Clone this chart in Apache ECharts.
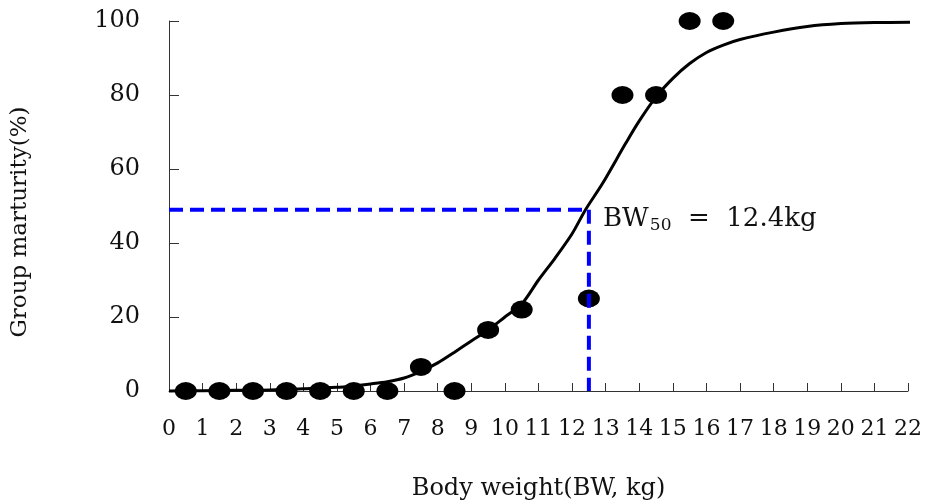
<!DOCTYPE html>
<html><head><meta charset="utf-8">
<script src="https://cdn.jsdelivr.net/npm/echarts@6/dist/echarts.min.js"></script>
<style>html,body{margin:0;padding:0;background:#fff}#c{width:928px;height:502px}</style>
</head><body><div id="c"></div>
<script>
// Observed group maturity
const obsX = [0.5,1.5,2.5,3.5,4.5,5.5,6.5,7.5,8.5,9.5,10.5,12.5,13.5,14.5,15.5,16.5];
const obsY = [0,0,0,0,0,0,0,6.5,0,16.5,22,25,80,80,100,100];
// Fitted logistic curve
const curveX = [0,1,2,3,4,5,5.5,6,6.5,7,7.5,8,8.5,9,9.5,10,10.5,11,11.5,12,12.4,12.9,13.6,14,14.5,15,15.5,16,16.5,17,18,19,20,21,22.35];
const curveY = [0,0.1,0.2,0.3,0.6,1.0,1.4,1.9,2.5,3.5,5.3,7.6,10.5,13.5,16.5,20,23.5,30,36,42.5,49,56,67,73,79.5,84.5,88.5,91.5,93.5,95,97,98.5,99.3,99.6,99.7];
// BW50 reference lines
const refX = [0, 12.5, 12.5];
const refY = [49, 49, 0];
const xTicks = ['0','1','2','3','4','5','6','7','8','9','10','11','12','13','14','15','16','17','18','19','20','21','22'];
const yTicks = [0,20,40,60,80,100];

const font = 'DejaVu Serif';
const chart = echarts.init(document.getElementById('c'));
chart.setOption({
  animation:false,
  backgroundColor:'#fff',
  grid:{left:169,right:20,top:21,bottom:111,containLabel:false,outerBoundsMode:'none'},
  xAxis:{type:'value',min:0,max:22,interval:1,
    axisLine:{lineStyle:{color:'#333',width:1}},
    axisTick:{inside:true,length:8,lineStyle:{color:'#333'}},
    splitLine:{show:false},
    axisLabel:{color:'#111',fontFamily:font,fontSize:22,margin:27,
      formatter:v=>xTicks[Math.round(v)] ?? ''},
    name:'Body weight(BW, kg)',nameLocation:'middle',nameGap:86,
    nameTextStyle:{color:'#111',fontFamily:font,fontSize:24}
  },
  yAxis:{type:'value',min:0,max:100,interval:20,
    axisLine:{show:true,lineStyle:{color:'#333',width:1}},
    axisTick:{show:true,inside:true,length:10,lineStyle:{color:'#333'}},
    splitLine:{show:false},
    axisLabel:{color:'#111',fontFamily:font,fontSize:24,margin:29,
      formatter:v=>yTicks.includes(v)?String(v):''}
  },
  graphic:[
    {type:'text',x:20,y:222,rotation:Math.PI/2,
      style:{text:'Group marturity(%)',fill:'#111',font:'23px "DejaVu Serif"',align:'center',verticalAlign:'middle'}},
    {type:'text',left:603,top:206,
      style:{rich:{m:{fontFamily:font,fontSize:26,fill:'#111'},s:{fontFamily:font,fontSize:17,fill:'#111',padding:[14,0,0,1]}},
        text:'{m|BW}{s|50}{m|  =  12.4kg}'}}
  ],
  series:[
    {type:'line',data:curveX.map((x,i)=>[x,curveY[i]]),smooth:0.3,showSymbol:false,clip:false,
      lineStyle:{color:'#000',width:3},z:2},
    {type:'scatter',data:obsX.map((x,i)=>[x,obsY[i]]),symbol:'circle',symbolSize:[22,18],clip:false,
      itemStyle:{color:'#000',opacity:1},z:3},
    {type:'line',data:refX.map((x,i)=>[x,refY[i]]),showSymbol:false,clip:false,
      lineStyle:{color:'#0000ff',width:4,type:[14,7]},z:4}
  ]
});
</script></body></html>
